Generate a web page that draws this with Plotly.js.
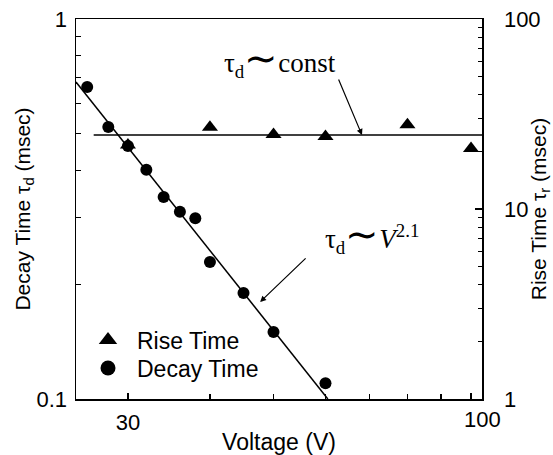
<!DOCTYPE html>
<html>
<head>
<meta charset="utf-8">
<script src="https://cdn.plot.ly/plotly-3.0.1.min.js"></script>
<style>html,body{margin:0;padding:0;background:#fff}</style>
</head>
<body>
<div id="chart" style="width:553px;height:455px"></div>
<script>
// Decay time (left axis, msec)
const decayVoltage = [26, 28, 30, 32, 34, 36, 38, 40, 45, 50, 60];
const decayTime    = [0.662, 0.520, 0.463, 0.401, 0.340, 0.311, 0.299, 0.2295, 0.190, 0.150, 0.110];
// Rise time (right axis, msec)
const riseVoltage = [30, 40, 50, 60, 80, 100];
const riseTime    = [21.7, 26.9, 24.7, 24.1, 27.8, 20.8];
// Guide lines
const decayFitVoltage = [25, 60.5];
const decayFitTime    = [0.683, 0.1];
const riseConstVoltage = [26.6, 104];
const riseConstTime    = [24.5, 24.5];
// Ticks
const xMajor = [30, 100];
const xMajorText = ['30', ''];
const xEndLabel = '100';
const xMinor = [40, 50, 60, 70, 80, 90];
const yMajor = [0.1, 1];
const yMajorText = ['0.1', '1'];
const yMinor = [0.2, 0.3, 0.4, 0.5, 0.6, 0.7, 0.8, 0.9];
const y2Major = [1, 10, 100];
const y2MajorText = ['1', '10', '100'];
const y2Minor = [2, 3, 4, 5, 6, 7, 8, 9, 20, 30, 40, 50, 60, 70, 80, 90];

const sans = 'Arial, "Liberation Sans", sans-serif';
const serif = '"Times New Roman", "Liberation Serif", serif';

const traces = [
  {x: decayFitVoltage, y: decayFitTime, mode: 'lines', line: {color: '#000', width: 1.5}, showlegend: false, yaxis: 'y'},
  {x: riseConstVoltage, y: riseConstTime, mode: 'lines', line: {color: '#000', width: 1.5}, showlegend: false, yaxis: 'y2'},
  {x: decayVoltage, y: decayTime, mode: 'markers', marker: {symbol: 'circle', size: 12, color: '#000'}, showlegend: false, yaxis: 'y', cliponaxis: false},
  {x: riseVoltage, y: riseTime, mode: 'markers', marker: {symbol: 'triangle-up', size: 14, color: '#000'}, showlegend: false, yaxis: 'y2', cliponaxis: false},
  {x: [null], y: [null], name: 'Rise Time', mode: 'markers', marker: {symbol: 'triangle-up', size: 17, color: '#000'}, yaxis: 'y2', legend: 'legend'},
  {x: [null], y: [null], name: 'Decay Time', mode: 'markers', marker: {symbol: 'circle', size: 15, color: '#000'}, yaxis: 'y', legend: 'legend2'}
];

const arrowHeadX = [68.2, 47.7];
const arrowHeadY = [24.5, 0.180];

const legendCommon = {xanchor: 'left', yanchor: 'middle', bgcolor: 'rgba(0,0,0,0)', borderwidth: 0,
  font: {family: sans, size: 23, color: '#000'}, itemwidth: 48};

const layout = {
  width: 553, height: 455,
  margin: {l: 76, r: 71, t: 19, b: 56, pad: 0},
  paper_bgcolor: '#fff', plot_bgcolor: '#fff',
  font: {family: sans, size: 22, color: '#000'},
  showlegend: true,
  legend: Object.assign({x: 0.0074, y: 0.1553}, legendCommon),
  legend2: Object.assign({x: 0.0074, y: 0.0816}, legendCommon),
  xaxis: {
    type: 'log', range: [Math.log10(25), 2.0167],
    showgrid: false, zeroline: false, showline: true, linecolor: '#000', linewidth: 1.5, mirror: true,
    ticks: 'inside', ticklen: 6, tickwidth: 1.2, tickcolor: '#000',
    tickmode: 'array', tickvals: xMajor, ticktext: xMajorText,
    minor: {tickmode: 'array', tickvals: xMinor, ticks: 'inside', ticklen: 5, tickwidth: 1.2, tickcolor: '#000', showgrid: false},
    tickfont: {family: sans, size: 22}, ticklabelstandoff: 3,
    title: {text: 'Voltage (V)', font: {family: sans, size: 23}, standoff: 12}
  },
  yaxis: {
    type: 'log', range: [-1, 0],
    showgrid: false, zeroline: false, showline: true, linecolor: '#000', linewidth: 1.5,
    ticks: 'inside', ticklen: 6, tickwidth: 1.2, tickcolor: '#000',
    tickmode: 'array', tickvals: yMajor, ticktext: yMajorText,
    minor: {tickmode: 'array', tickvals: yMinor, ticks: 'inside', ticklen: 5, tickwidth: 1.2, tickcolor: '#000', showgrid: false},
    tickfont: {family: sans, size: 22}, ticklabelstandoff: 3,
    title: {text: 'Decay Time τ<sub>d</sub> (msec)', font: {family: sans, size: 21}, standoff: 0}
  },
  yaxis2: {
    type: 'log', range: [0, 2], overlaying: 'y', side: 'right',
    showgrid: false, zeroline: false, showline: true, linecolor: '#000', linewidth: 1.5,
    ticks: 'inside', ticklen: 7, tickwidth: 1.2, tickcolor: '#000',
    tickmode: 'array', tickvals: y2Major, ticktext: y2MajorText,
    minor: {tickmode: 'array', tickvals: y2Minor, ticks: 'inside', ticklen: 4, tickwidth: 1.2, tickcolor: '#000', showgrid: false},
    tickfont: {family: sans, size: 22}, ticklabelstandoff: 16,
    title: {text: 'Rise Time τ<sub>r</sub> (msec)', font: {family: sans, size: 21}, standoff: 0}
  },
  annotations: [
    {xref: 'paper', yref: 'paper', x: 1, y: 0, xanchor: 'center', yanchor: 'top', yshift: -6, showarrow: false,
     text: xEndLabel, font: {family: sans, size: 22, color: '#000'}},
    {xref: 'paper', yref: 'paper', x: 0.503, y: 0.895, xanchor: 'center', yanchor: 'middle', showarrow: false,
     text: 'τ<sub>d</sub><span style="font-size:40px">∼</span>const', font: {family: serif, size: 27, color: '#000'}},
    {xref: 'paper', yref: 'paper', x: 0.729, y: 0.432, xanchor: 'center', yanchor: 'middle', showarrow: false,
     text: 'τ<sub>d</sub><span style="font-size:40px">∼</span><i>V</i><sup>2.1</sup>', font: {family: serif, size: 27, color: '#000'}},
    {xref: 'x', yref: 'y2', x: Math.log10(arrowHeadX[0]), y: Math.log10(arrowHeadY[0]), text: '', showarrow: true,
     ax: -24, ay: -57, arrowhead: 2, arrowsize: 1, arrowwidth: 1.2, arrowcolor: '#000', standoff: 0},
    {xref: 'x', yref: 'y', x: Math.log10(arrowHeadX[1]), y: Math.log10(arrowHeadY[1]), text: '', showarrow: true,
     ax: 47, ay: -45, arrowhead: 2, arrowsize: 1, arrowwidth: 1.2, arrowcolor: '#000', standoff: 0}
  ]
};

Plotly.newPlot('chart', traces, layout, {displayModeBar: false, staticPlot: true});
</script>
</body>
</html>
